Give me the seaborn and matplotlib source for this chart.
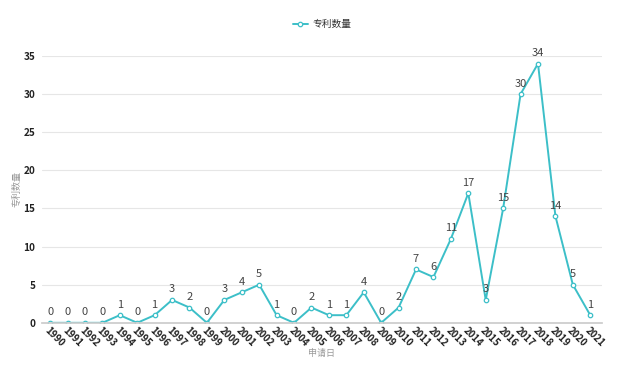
import pandas as pd
import matplotlib.pyplot as plt
import seaborn as sns

# data
years = list(range(1990, 2022))
counts = [0, 0, 0, 0, 1, 0, 1, 3, 2, 0, 3, 4, 5, 1, 0, 2, 1, 1, 4, 0,
          2, 7, 6, 11, 17, 3, 15, 30, 34, 14, 5, 1]
series_name = "专利数量"
x_label = "申请日"

sns.set_theme(style="white")
plt.rcParams['font.family'] = ['Noto Sans CJK SC', 'DejaVu Sans']
plt.rcParams['axes.unicode_minus'] = False

df = pd.DataFrame({"year": [str(y) for y in years], "count": counts})
line_color = "#3cbfc8"

fig, ax = plt.subplots(figsize=(6.4, 3.66), dpi=100)
fig.subplots_adjust(left=0.066, right=0.94, top=0.847, bottom=0.118)

sns.lineplot(data=df, x="year", y="count", ax=ax, color=line_color, lw=1.4,
             marker="o", markersize=3.2, markerfacecolor="white",
             markeredgecolor=line_color, markeredgewidth=0.9, label=series_name,
             sort=False)

for i, v in enumerate(counts):
    ax.annotate(str(v), (i, v), xytext=(0, 4), textcoords="offset points",
                ha="center", va="bottom", fontsize=8, color="#444444")

ax.set_ylim(0, 35)
ax.set_xlim(-0.45, len(years) - 0.35)
ax.set_yticks(range(0, 36, 5))
ax.yaxis.grid(True, color="#e6e6e6", lw=0.8)
for s in ["top", "right", "left"]:
    ax.spines[s].set_visible(False)
ax.spines["bottom"].set_color("#cccccc")
ax.tick_params(axis="y", length=0, labelsize=7.2, pad=5)
ax.tick_params(axis="x", length=0, labelsize=7, pad=2)
for t in ax.get_yticklabels():
    t.set_fontweight("bold")
    t.set_color("#222222")
for t in ax.get_xticklabels():
    t.set_rotation(-45)
    t.set_ha("left")
    t.set_rotation_mode("anchor")
    t.set_fontweight("bold")
    t.set_color("#222222")

ax.set_xlabel(x_label, fontsize=6.5, color="#999999", labelpad=0)
ax.set_ylabel(series_name, fontsize=6.5, color="#999999", labelpad=1)

leg = ax.legend(loc="upper center", bbox_to_anchor=(0.5, 1.17), frameon=False,
                fontsize=7, handlelength=1.6, handletextpad=0.4)
for t in leg.get_texts():
    t.set_color("#333333")

plt.savefig("out.png", dpi=100)
